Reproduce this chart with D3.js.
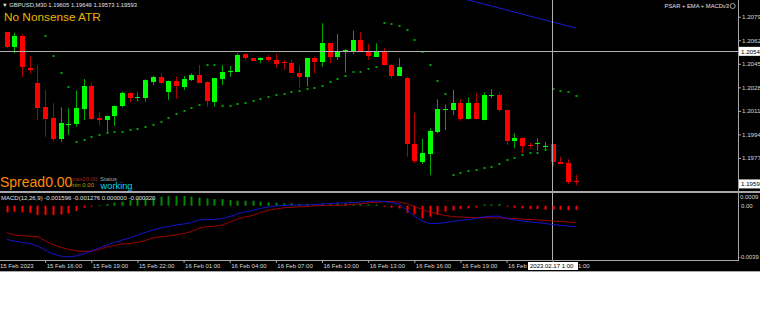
<!DOCTYPE html>
<html>
<head>
<meta charset="utf-8">
<script src="https://cdn.jsdelivr.net/npm/d3@7/dist/d3.min.js"></script>
<style>
body { margin: 0; background: #fff; }
text { font-family: "Liberation Sans", Arial, sans-serif; }
</style>
</head>
<body>
<div id="chart"></div>
<script>
// GBPUSD M30 bars, 15 Feb 13:30 .. 17 Feb 02:30
var open = [1.20678, 1.20569, 1.20651, 1.20422, 1.20309, 1.20136, 1.20056, 1.19907, 1.20013, 1.20015,
    1.20126, 1.20290, 1.20056, 1.20044, 1.20073, 1.20145, 1.20239, 1.20207, 1.20205, 1.20319,
    1.20355, 1.20244, 1.20326, 1.20280, 1.20333, 1.20369, 1.20321, 1.20176, 1.20340, 1.20396,
    1.20393, 1.20521, 1.20490, 1.20475, 1.20497, 1.20478, 1.20460, 1.20458, 1.20386, 1.20353,
    1.20490, 1.20463, 1.20598, 1.20497, 1.20550, 1.20545, 1.20622, 1.20545, 1.20501, 1.20538,
    1.20441, 1.20364, 1.20350, 1.19871, 1.19743, 1.19801, 1.19955, 1.20120, 1.20116, 1.20165,
    1.20049, 1.20165, 1.20044, 1.20223, 1.20225, 1.20116, 1.19893, 1.19917, 1.19860, 1.19879,
    1.19857, 1.19869, 1.19741, 1.19736, 1.19605];
var high = [1.20680, 1.20675, 1.20665, 1.20506, 1.20441, 1.20261, 1.20165, 1.20136, 1.20129, 1.20256,
    1.20340, 1.20314, 1.20100, 1.20077, 1.20149, 1.20249, 1.20243, 1.20244, 1.20337, 1.20362,
    1.20381, 1.20329, 1.20357, 1.20362, 1.20381, 1.20441, 1.20326, 1.20348, 1.20441, 1.20434,
    1.20526, 1.20523, 1.20492, 1.20496, 1.20516, 1.20521, 1.20478, 1.20478, 1.20436, 1.20492,
    1.20501, 1.20743, 1.20600, 1.20665, 1.20555, 1.20689, 1.20680, 1.20593, 1.20598, 1.20562,
    1.20449, 1.20490, 1.20355, 1.20097, 1.19907, 1.19984, 1.20194, 1.20157, 1.20261, 1.20194,
    1.20205, 1.20237, 1.20244, 1.20266, 1.20244, 1.20120, 1.19948, 1.19918, 1.19880, 1.19912,
    1.19885, 1.19871, 1.19779, 1.19760, 1.19649];
var low = [1.20564, 1.20526, 1.20357, 1.20381, 1.20044, 1.19923, 1.19887, 1.19887, 1.19936, 1.19996,
    1.20044, 1.20048, 1.20003, 1.19948, 1.20001, 1.20136, 1.20172, 1.20180, 1.20176, 1.20295,
    1.20304, 1.20189, 1.20196, 1.20261, 1.20326, 1.20311, 1.20140, 1.20140, 1.20297, 1.20357,
    1.20391, 1.20478, 1.20470, 1.20454, 1.20465, 1.20422, 1.20405, 1.20384, 1.20278, 1.20285,
    1.20381, 1.20429, 1.20454, 1.20478, 1.20386, 1.20521, 1.20543, 1.20478, 1.20499, 1.20438,
    1.20345, 1.20362, 1.19779, 1.19731, 1.19726, 1.19646, 1.19950, 1.19972, 1.20080, 1.20037,
    1.20048, 1.20048, 1.20042, 1.20201, 1.20104, 1.19864, 1.19840, 1.19804, 1.19840, 1.19822,
    1.19822, 1.19707, 1.19726, 1.19582, 1.19573];
var close = [1.20569, 1.20651, 1.20429, 1.20403, 1.20133, 1.20049, 1.19907, 1.20020, 1.20015, 1.20129,
    1.20290, 1.20051, 1.20042, 1.20075, 1.20147, 1.20241, 1.20205, 1.20208, 1.20333, 1.20357,
    1.20309, 1.20326, 1.20290, 1.20338, 1.20369, 1.20314, 1.20181, 1.20345, 1.20393, 1.20398,
    1.20516, 1.20490, 1.20473, 1.20494, 1.20475, 1.20451, 1.20458, 1.20386, 1.20357, 1.20490,
    1.20463, 1.20598, 1.20501, 1.20545, 1.20553, 1.20622, 1.20545, 1.20506, 1.20538, 1.20441,
    1.20364, 1.20429, 1.19871, 1.19748, 1.19808, 1.19965, 1.20121, 1.20121, 1.20168, 1.20049,
    1.20165, 1.20049, 1.20225, 1.20225, 1.20116, 1.19895, 1.19917, 1.19856, 1.19859, 1.19880,
    1.19859, 1.19741, 1.19728, 1.19594, 1.19593];

// parabolic SAR (null = not visible)
var sar = [null, null, null, null, null, 1.20651, 1.20506, 1.20386, 1.20285, 1.19887,
    1.19900, 1.19919, 1.19936, 1.19948, 1.19955, 1.19955, 1.19970, 1.19981, 1.19996, 1.20008,
    1.20030, 1.20056, 1.20085, 1.20111, 1.20129, 1.20150, 1.20441, 1.20441, 1.20143, 1.20143,
    1.20160, 1.20165, 1.20181, 1.20194, 1.20208, 1.20223, 1.20232, 1.20244, 1.20256, 1.20266,
    1.20278, 1.20290, 1.20317, 1.20338, 1.20362, 1.20389, 1.20389, 1.20410, 1.20429, 1.20743,
    1.20736, 1.20723, 1.20694, 1.20622, 1.20533, 1.20441, 1.20328, 1.20232, 1.19646, 1.19659,
    1.19674, 1.19683, 1.19694, 1.19707, 1.19726, 1.19755, 1.19772, 1.19789, 1.19808, 1.19808,
    1.19827, 1.20266, 1.20256, 1.20244, 1.20218];

// EMA, only its last part is inside the window
var emaStart = 58;
var ema = [1.20940, 1.20925, 1.20911, 1.20897, 1.20882, 1.20868, 1.20853, 1.20839, 1.20824,
    1.20810, 1.20795, 1.20781, 1.20767, 1.20752, 1.20738, 1.20723, 1.20709];

// MACD(12,26,9)
var macd = [-0.00259, -0.00270, -0.00282, -0.00289, -0.00308, -0.00339, -0.00369, -0.00385, -0.00392, -0.00385,
    -0.00369, -0.00347, -0.00324, -0.00301, -0.00282, -0.00262, -0.00247, -0.00224, -0.00205, -0.00186,
    -0.00171, -0.00159, -0.00148, -0.00140, -0.00129, -0.00109, -0.00106, -0.00106, -0.00098, -0.00083,
    -0.00063, -0.00048, -0.00037, -0.00021, -0.00010, -0.00002, 0.00002, 0.00005, 0.00005, 0.00005,
    0.00009, 0.00013, 0.00017, 0.00021, 0.00021, 0.00024, 0.00028, 0.00032, 0.00036, 0.00032,
    0.00024, 0.00013, -0.00033, -0.00079, -0.00117, -0.00136, -0.00136, -0.00129, -0.00121, -0.00113,
    -0.00106, -0.00098, -0.00085, -0.00081, -0.00080, -0.00098, -0.00108, -0.00116, -0.00123, -0.00129,
    -0.00136, -0.00144, -0.00150, -0.00155, -0.00160];
var signal = [-0.00207, -0.00224, -0.00230, -0.00233, -0.00237, -0.00268, -0.00298, -0.00318, -0.00334, -0.00344,
    -0.00350, -0.00347, -0.00335, -0.00316, -0.00304, -0.00293, -0.00289, -0.00280, -0.00266, -0.00247,
    -0.00239, -0.00233, -0.00222, -0.00214, -0.00197, -0.00173, -0.00161, -0.00157, -0.00149, -0.00126,
    -0.00102, -0.00086, -0.00075, -0.00052, -0.00035, -0.00025, -0.00016, -0.00012, -0.00008, -0.00008,
    -0.00001, 0.00000, 0.00004, 0.00003, 0.00003, 0.00011, 0.00015, 0.00022, 0.00026, 0.00032,
    0.00032, 0.00028, 0.00017, -0.00006, -0.00029, -0.00048, -0.00063, -0.00075, -0.00083, -0.00086,
    -0.00089, -0.00090, -0.00092, -0.00093, -0.00094, -0.00096, -0.00099, -0.00102, -0.00105, -0.00108,
    -0.00112, -0.00117, -0.00121, -0.00125, -0.00128];
var hist = [-0.00051, -0.00046, -0.00051, -0.00056, -0.00071, -0.00071, -0.00071, -0.00067, -0.00059, -0.00041,
    -0.00015, -0.00008, 0.00005, 0.00013, 0.00023, 0.00031, 0.00044, 0.00056, 0.00061, 0.00061,
    0.00069, 0.00074, 0.00074, 0.00074, 0.00069, 0.00063, 0.00056, 0.00051, 0.00051, 0.00044,
    0.00038, 0.00038, 0.00038, 0.00031, 0.00025, 0.00023, 0.00018, 0.00018, 0.00013, 0.00013,
    0.00010, 0.00013, 0.00013, 0.00018, 0.00018, 0.00013, 0.00013, 0.00010, 0.00010, -0.00008,
    -0.00015, -0.00021, -0.00054, -0.00067, -0.00097, -0.00084, -0.00067, -0.00046, -0.00036, -0.00025,
    -0.00021, -0.00013, 0.00010, 0.00010, 0.00013, -0.00008, -0.00015, -0.00021, -0.00025, -0.00025,
    -0.00031, -0.00031, -0.00031, -0.00036, -0.00032];

var priceTicks = [1.2079, 1.2062, 1.2045, 1.2028, 1.2011, 1.1994, 1.1977];
var timeTickBars = [5, 11, 17, 23, 29, 35, 41, 47, 53, 59, 65, 71];
var timeTickLabels = ["15 Feb 16:00", "15 Feb 19:00", "15 Feb 22:00", "16 Feb 01:00", "16 Feb 04:00",
    "16 Feb 07:00", "16 Feb 10:00", "16 Feb 13:00", "16 Feb 16:00", "16 Feb 19:00", "16 Feb 22:00", "17 Feb 01:00"];
var cursorBar = 71, cursorPrice = 1.2054, cursorTime = "2023.02.17 1:00";
var lastBid = 1.19593;

// layout
var width = 760, height = 311;
var plotRight = 738;
var mainBottom = 191, macdTop = 193, macdBottom = 260, axisBottom = 272;

var svg = d3.select("#chart")
    .append("svg")
    .attr("width", width)
    .attr("height", height)
    .style("display", "block");

svg.append("rect").attr("width", width).attr("height", axisBottom).attr("fill", "#000");

svg.append("clipPath").attr("id", "clipMain")
    .append("rect").attr("width", plotRight).attr("height", mainBottom);
svg.append("clipPath").attr("id", "clipMacd")
    .append("rect").attr("y", macdTop).attr("width", plotRight).attr("height", macdBottom - macdTop);

// scales
var x = d3.scaleLinear().domain([0, 74]).range([6.7, 575.8]);
var y = d3.scaleLinear().domain([1.19531, 1.20911]).range([mainBottom, 0]);
var ym = d3.scaleLinear().domain([-0.0039, 0]).range([256.7, 205.7]);

var bars = d3.range(open.length);
var main = svg.append("g").attr("clip-path", "url(#clipMain)");

// crosshair
svg.append("line")
    .attr("x1", 0).attr("x2", plotRight)
    .attr("y1", Math.round(y(cursorPrice)) + 0.5).attr("y2", Math.round(y(cursorPrice)) + 0.5)
    .attr("stroke", "#b0b0b0");
svg.append("line")
    .attr("x1", Math.round(x(cursorBar)) - 0.5).attr("x2", Math.round(x(cursorBar)) - 0.5)
    .attr("y1", 0).attr("y2", macdBottom)
    .attr("stroke", "#b0b0b0");

// EMA
var emaLine = d3.line()
    .x(function(d, i) { return x(emaStart + i); })
    .y(function(d) { return y(d); });
main.append("path")
    .datum(ema)
    .attr("d", emaLine)
    .attr("fill", "none")
    .attr("stroke", "#1c1cd8")
    .attr("stroke-width", 1);

// wicks
main.selectAll(".wick").data(bars)
    .enter()
    .append("line")
    .attr("class", "wick")
    .attr("x1", function(i) { return Math.round(x(i)) + 0.5; })
    .attr("x2", function(i) { return Math.round(x(i)) + 0.5; })
    .attr("y1", function(i) { return y(high[i]); })
    .attr("y2", function(i) { return y(low[i]); })
    .attr("stroke", function(i) { return close[i] >= open[i] ? "#00a800" : "#b00000"; })
    .attr("stroke-width", 1);

// bodies
main.selectAll(".body").data(bars)
    .enter()
    .append("rect")
    .attr("class", "body")
    .attr("x", function(i) { return Math.round(x(i)) - 2; })
    .attr("width", 5)
    .attr("y", function(i) { return y(Math.max(open[i], close[i])); })
    .attr("height", function(i) { return Math.max(1, Math.abs(y(open[i]) - y(close[i]))); })
    .attr("fill", function(i) { return close[i] >= open[i] ? "#00ff00" : "#ff0000"; })
    .attr("shape-rendering", "crispEdges");

// parabolic SAR dots
main.selectAll(".sar").data(bars.filter(function(i) { return sar[i] !== null; }))
    .enter()
    .append("rect")
    .attr("class", "sar")
    .attr("x", function(i) { return Math.round(x(i)) - 0.5; })
    .attr("y", function(i) { return Math.round(y(sar[i])) - 1; })
    .attr("width", 2)
    .attr("height", 2)
    .attr("fill", "#00a000");

// MACD window
var sub = svg.append("g").attr("clip-path", "url(#clipMacd)");
sub.selectAll(".hist").data(bars)
    .enter()
    .append("rect")
    .attr("class", "hist")
    .attr("x", function(i) { return Math.round(x(i)) - 0.5; })
    .attr("width", 2)
    .attr("y", function(i) { return Math.min(ym(0), ym(hist[i])); })
    .attr("height", function(i) { return Math.abs(ym(hist[i]) - ym(0)); })
    .attr("fill", function(i) { return hist[i] >= 0 ? "#008a00" : "#ff0000"; });

var macdLine = d3.line()
    .x(function(d, i) { return x(i); })
    .y(function(d) { return ym(d); });
sub.append("path").datum(signal).attr("d", macdLine)
    .attr("fill", "none").attr("stroke", "#a00000").attr("stroke-width", 1);
sub.append("path").datum(macd).attr("d", macdLine)
    .attr("fill", "none").attr("stroke", "#1414d0").attr("stroke-width", 1);

// frame lines
svg.append("rect").attr("x", 0).attr("y", mainBottom).attr("width", width).attr("height", 2).attr("fill", "#a8a8a8");
svg.append("rect").attr("x", 0).attr("y", macdBottom).attr("width", plotRight + 1).attr("height", 1).attr("fill", "#a8a8a8");
svg.append("rect").attr("x", plotRight).attr("y", 0).attr("width", 1).attr("height", macdBottom).attr("fill", "#a8a8a8");
svg.append("rect").attr("x", 0).attr("y", axisBottom - 1).attr("width", width).attr("height", 1).attr("fill", "#a8a8a8");

// price axis
var yAxis = svg.append("g")
    .attr("transform", "translate(" + (plotRight + 1) + ",0)")
    .call(d3.axisRight(y).tickValues(priceTicks).tickSize(2).tickPadding(1).tickFormat(d3.format(".4f")));
yAxis.select(".domain").remove();
yAxis.selectAll("line").attr("stroke", "#a8a8a8");
yAxis.selectAll("text").attr("fill", "#d8d8d8").style("font-size", "6.2px").attr("font-family", null);

function axisBox(px, py, label) {
    var g = svg.append("g");
    g.append("rect").attr("x", px).attr("y", py - 4.5).attr("width", width - px).attr("height", 9).attr("fill", "#fff");
    g.append("text").attr("x", px + 2).attr("y", py).attr("dy", "0.35em")
        .attr("fill", "#000").style("font-size", "6.2px").text(label);
}
axisBox(plotRight + 1, y(cursorPrice), d3.format(".4f")(cursorPrice));
axisBox(plotRight + 1, y(lastBid) + 1.5, d3.format(".4f")(lastBid));

// MACD scale labels
svg.append("text").attr("x", plotRight + 2).attr("y", 197).attr("dy", "0.35em")
    .attr("fill", "#d8d8d8").style("font-size", "6px").text("0.0009");
svg.append("text").attr("x", plotRight + 3).attr("y", ym(0)).attr("dy", "0.35em")
    .attr("fill", "#d8d8d8").style("font-size", "6px").text("0.00");
svg.append("text").attr("x", plotRight + 1).attr("y", ym(-0.0039)).attr("dy", "0.35em")
    .attr("fill", "#d8d8d8").style("font-size", "5.8px").text("-0.0039");

// time axis
var xAxis = svg.append("g")
    .attr("transform", "translate(0," + (macdBottom + 1) + ")")
    .call(d3.axisBottom(x).tickValues(timeTickBars).tickSize(2).tickFormat(function(d, i) { return timeTickLabels[i]; }));
xAxis.select(".domain").remove();
xAxis.selectAll("line").attr("stroke", "#a8a8a8");
xAxis.selectAll("text")
    .attr("text-anchor", "start").attr("x", 1).attr("y", 5).attr("dy", "0.35em")
    .attr("fill", "#d8d8d8").style("font-size", "6px").attr("font-family", null);
svg.append("text").attr("x", 0).attr("y", 266).attr("dy", "0.35em")
    .attr("fill", "#d8d8d8").style("font-size", "6px").text("15 Feb 2023");

// cursor date box drawn over the axis labels, as in the terminal
var tx = Math.round(x(cursorBar)) - 25;
svg.append("rect").attr("x", tx).attr("y", 262).attr("width", 50).attr("height", 8).attr("fill", "#fff");
svg.append("text").attr("x", tx + 2).attr("y", 266).attr("dy", "0.35em")
    .attr("fill", "#000").style("font-size", "6px").text(cursorTime);

// labels
svg.append("text").attr("x", 2).attr("y", 5).attr("dy", "0.35em")
    .attr("fill", "#e0e0e0").style("font-size", "5.8px")
    .text("\u25BC GBPUSD,M30  1.19605 1.19649 1.19573 1.19593");
svg.append("text").attr("x", 4).attr("y", 20.7)
    .attr("fill", "#e8b400").style("font-size", "11.8px").text("No Nonsense ATR");
svg.append("text").attr("x", 729).attr("y", 6).attr("dy", "0.35em").attr("text-anchor", "end")
    .attr("fill", "#e0e0e0").style("font-size", "5.8px").text("PSAR + EMA + MACDv3");
svg.append("circle").attr("cx", 732.7).attr("cy", 6).attr("r", 2.5)
    .attr("fill", "none").attr("stroke", "#c8c8c8").attr("stroke-width", 0.8);

svg.append("text").attr("x", 0).attr("y", 187)
    .attr("fill", "#ff8c00").style("font-size", "14px").text("Spread0.00");
svg.append("text").attr("x", 71).attr("y", 181)
    .attr("fill", "#b02020").style("font-size", "6px").text("max20.00");
svg.append("text").attr("x", 71).attr("y", 187)
    .attr("fill", "#b8a000").style("font-size", "6px").text("min 0.00");
svg.append("text").attr("x", 100).attr("y", 181)
    .attr("fill", "#a0a0a0").style("font-size", "6px").text("Status");
svg.append("text").attr("x", 100.5).attr("y", 189)
    .attr("fill", "#00d8e8").style("font-size", "9.3px").text("working");

svg.append("text").attr("x", 1).attr("y", 198.3).attr("dy", "0.35em")
    .attr("fill", "#e0e0e0").style("font-size", "6px")
    .text("MACD(12,26,9) -0.001596 -0.001276 0.000000 -0.000320");
</script>
</body>
</html>
